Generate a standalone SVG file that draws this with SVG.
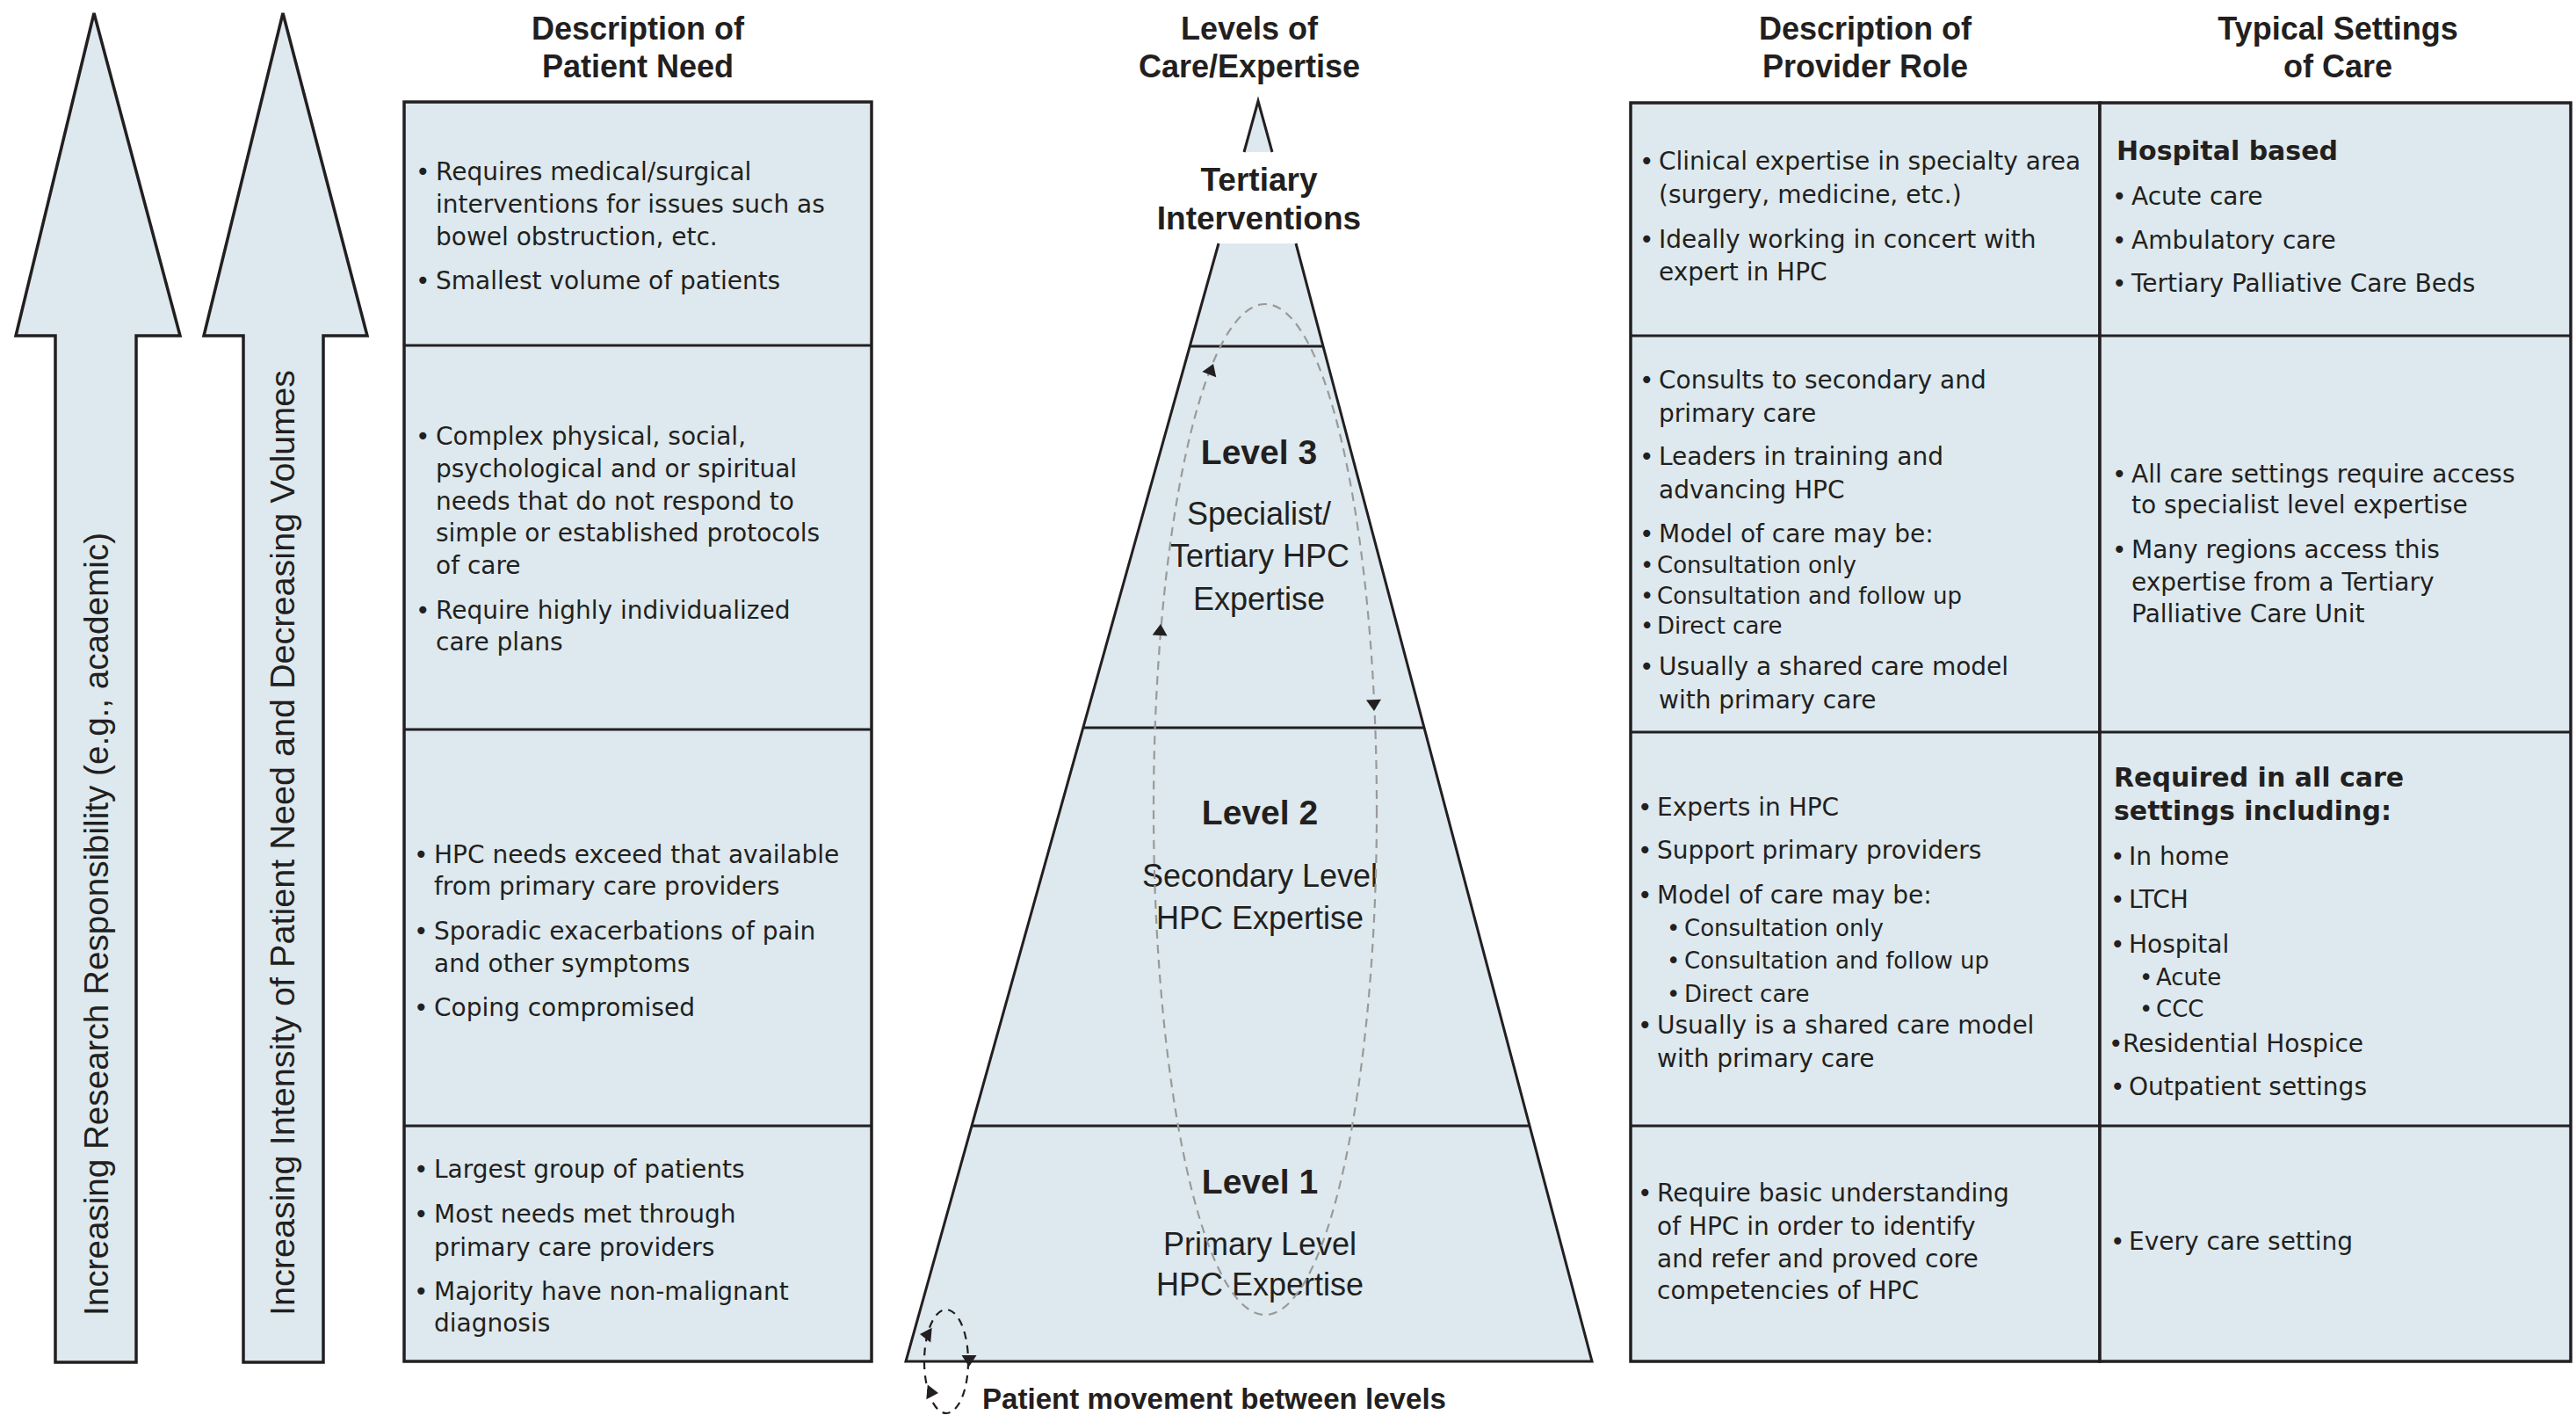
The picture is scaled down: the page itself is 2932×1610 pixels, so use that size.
<svg xmlns="http://www.w3.org/2000/svg" width="2932" height="1610" viewBox="0 0 2932 1610">
<defs>
<style>
.fill{fill:#dde9ee}
.ln{stroke:#231f20;stroke-width:3;fill:none}
.box{fill:#dde9ee;stroke:#231f20;stroke-width:3.5}
.hd{font-family:"Liberation Sans",Arial,sans-serif;font-weight:bold;font-size:36px;fill:#231f20;text-anchor:middle}
.py{font-family:"Liberation Sans",Arial,sans-serif;font-size:36px;fill:#231f20;text-anchor:middle}
.pyb{font-family:"Liberation Sans",Arial,sans-serif;font-weight:bold;font-size:39px;fill:#231f20;text-anchor:middle}
.vt{font-family:"Liberation Sans",Arial,sans-serif;font-size:39px;fill:#231f20}
.t{font-family:"DejaVu Sans",Verdana,sans-serif;font-size:28px;fill:#231f20}
.ts{font-family:"DejaVu Sans",Verdana,sans-serif;font-size:26px;fill:#231f20}
.tb{font-family:"DejaVu Sans",Verdana,sans-serif;font-weight:bold;font-size:30px;fill:#231f20}
.dash{fill:none;stroke:#9a9a9a;stroke-width:2.2;stroke-dasharray:10 7}
.dashk{fill:none;stroke:#231f20;stroke-width:2.2;stroke-dasharray:9 7}
.ah{fill:#231f20}
</style>
<path id="ah" d="M0,0 L-13,-8.5 L-13,8.5 Z"/>
</defs>
<rect width="2932" height="1610" fill="#ffffff"/>

<!-- Left arrows -->
<g id="arrow-research">
<polygon class="box" points="63,1550 63,382 18,382 107,15 205,382 155,382 155,1550"/>
<text class="vt" transform="translate(123,1497) rotate(-90)" textLength="891" lengthAdjust="spacingAndGlyphs">Increasing Research Responsibility (e.g., academic)</text>
</g>
<g id="arrow-intensity">
<polygon class="box" points="277,1550 277,382 232,382 322,15 418,382 368,382 368,1550"/>
<text class="vt" transform="translate(335,1497) rotate(-90)" textLength="1076" lengthAdjust="spacingAndGlyphs">Increasing Intensity of Patient Need and Decreasing Volumes</text>
</g>

<!-- Headers -->
<g id="headers">
<text class="hd" x="726" y="45">Description of</text>
<text class="hd" x="726" y="88">Patient Need</text>
<text class="hd" x="1422" y="45">Levels of</text>
<text class="hd" x="1422" y="88">Care/Expertise</text>
<text class="hd" x="2123" y="45">Description of</text>
<text class="hd" x="2123" y="88">Provider Role</text>
<text class="hd" x="2661" y="45">Typical Settings</text>
<text class="hd" x="2661" y="88">of Care</text>
</g>

<!-- Patient need table -->
<g id="patient-need">
<rect class="box" x="460" y="116" width="532" height="1433"/>
<line class="ln" x1="460" y1="393" x2="992" y2="393"/>
<line class="ln" x1="460" y1="830" x2="992" y2="830"/>
<line class="ln" x1="460" y1="1281" x2="992" y2="1281"/>
<text class="t"><tspan x="473" y="205">•</tspan><tspan x="496" y="205">Requires medical/surgical</tspan></text>
<text class="t" x="496" y="242">interventions for issues such as</text>
<text class="t" x="496" y="279">bowel obstruction, etc.</text>
<text class="t"><tspan x="473" y="329">•</tspan><tspan x="496" y="329">Smallest volume of patients</tspan></text>

<text class="t"><tspan x="473" y="506">•</tspan><tspan x="496" y="506">Complex physical, social,</tspan></text>
<text class="t" x="496" y="543">psychological and or spiritual</text>
<text class="t" x="496" y="580">needs that do not respond to</text>
<text class="t" x="496" y="616">simple or established protocols</text>
<text class="t" x="496" y="653">of care</text>
<text class="t"><tspan x="473" y="704">•</tspan><tspan x="496" y="704">Require highly individualized</tspan></text>
<text class="t" x="496" y="740">care plans</text>

<text class="t"><tspan x="471" y="982">•</tspan><tspan x="494" y="982">HPC needs exceed that available</tspan></text>
<text class="t" x="494" y="1018">from primary care providers</text>
<text class="t"><tspan x="471" y="1069">•</tspan><tspan x="494" y="1069">Sporadic exacerbations of pain</tspan></text>
<text class="t" x="494" y="1106">and other symptoms</text>
<text class="t"><tspan x="471" y="1156">•</tspan><tspan x="494" y="1156">Coping compromised</tspan></text>

<text class="t"><tspan x="471" y="1340">•</tspan><tspan x="494" y="1340">Largest group of patients</tspan></text>
<text class="t"><tspan x="471" y="1391">•</tspan><tspan x="494" y="1391">Most needs met through</tspan></text>
<text class="t" x="494" y="1429">primary care providers</text>
<text class="t"><tspan x="471" y="1479">•</tspan><tspan x="494" y="1479">Majority have non-malignant</tspan></text>
<text class="t" x="494" y="1515">diagnosis</text>
</g>

<!-- Pyramid -->
<g id="pyramid">
<polygon class="fill" points="1432,115 1416,173 1448,173"/>
<polyline class="ln" points="1416,173 1432,115 1448,173"/>
<polygon class="fill" points="1387,277 1475,277 1812,1549 1031,1549"/>
<polyline class="ln" points="1387,277 1031,1549 1812,1549 1475,277"/>
<line class="ln" x1="1354" y1="394" x2="1506" y2="394"/>
<line class="ln" x1="1233" y1="828" x2="1621" y2="828"/>
<line class="ln" x1="1106" y1="1281" x2="1741" y2="1281"/>
<text class="hd" x="1433" y="217" style="font-size:37px">Tertiary</text>
<text class="hd" x="1433" y="261" style="font-size:37px">Interventions</text>
<text class="pyb" x="1433" y="528">Level 3</text>
<text class="py" x="1433" y="597">Specialist/</text>
<text class="py" x="1434" y="645">Tertiary HPC</text>
<text class="py" x="1433" y="694">Expertise</text>
<text class="pyb" x="1434" y="938">Level 2</text>
<text class="py" x="1434" y="1009">Secondary Level</text>
<text class="py" x="1434" y="1057">HPC Expertise</text>
<text class="pyb" x="1434" y="1358">Level 1</text>
<text class="py" x="1434" y="1428">Primary Level</text>
<text class="py" x="1434" y="1474">HPC Expertise</text>
</g>

<!-- Provider role table -->
<g id="provider-role">
<rect class="box" x="1856" y="117" width="534" height="1432"/>
<line class="ln" x1="1856" y1="382" x2="2390" y2="382"/>
<line class="ln" x1="1856" y1="833" x2="2390" y2="833"/>
<line class="ln" x1="1856" y1="1281" x2="2390" y2="1281"/>
<text class="t"><tspan x="1866" y="193">•</tspan><tspan x="1888" y="193">Clinical expertise in specialty area</tspan></text>
<text class="t" x="1888" y="231">(surgery, medicine, etc.)</text>
<text class="t"><tspan x="1866" y="282">•</tspan><tspan x="1888" y="282">Ideally working in concert with</tspan></text>
<text class="t" x="1888" y="319">expert in HPC</text>

<text class="t"><tspan x="1866" y="442">•</tspan><tspan x="1888" y="442">Consults to secondary and</tspan></text>
<text class="t" x="1888" y="480">primary care</text>
<text class="t"><tspan x="1866" y="529">•</tspan><tspan x="1888" y="529">Leaders in training and</tspan></text>
<text class="t" x="1888" y="567">advancing HPC</text>
<text class="t"><tspan x="1866" y="617">•</tspan><tspan x="1888" y="617">Model of care may be:</tspan></text>
<text class="ts"><tspan x="1867" y="652">•</tspan><tspan x="1886" y="652">Consultation only</tspan></text>
<text class="ts"><tspan x="1867" y="687">•</tspan><tspan x="1886" y="687">Consultation and follow up</tspan></text>
<text class="ts"><tspan x="1867" y="721">•</tspan><tspan x="1886" y="721">Direct care</tspan></text>
<text class="t"><tspan x="1866" y="768">•</tspan><tspan x="1888" y="768">Usually a shared care model</tspan></text>
<text class="t" x="1888" y="806">with primary care</text>

<text class="t"><tspan x="1864" y="928">•</tspan><tspan x="1886" y="928">Experts in HPC</tspan></text>
<text class="t"><tspan x="1864" y="977">•</tspan><tspan x="1886" y="977">Support primary providers</tspan></text>
<text class="t"><tspan x="1864" y="1028">•</tspan><tspan x="1886" y="1028">Model of care may be:</tspan></text>
<text class="ts"><tspan x="1897" y="1065">•</tspan><tspan x="1917" y="1065">Consultation only</tspan></text>
<text class="ts"><tspan x="1897" y="1102">•</tspan><tspan x="1917" y="1102">Consultation and follow up</tspan></text>
<text class="ts"><tspan x="1897" y="1140">•</tspan><tspan x="1917" y="1140">Direct care</tspan></text>
<text class="t"><tspan x="1864" y="1176">•</tspan><tspan x="1886" y="1176">Usually is a shared care model</tspan></text>
<text class="t" x="1886" y="1214">with primary care</text>

<text class="t"><tspan x="1864" y="1367">•</tspan><tspan x="1886" y="1367">Require basic understanding</tspan></text>
<text class="t" x="1886" y="1405">of HPC in order to identify</text>
<text class="t" x="1886" y="1442">and refer and proved core</text>
<text class="t" x="1886" y="1478">competencies of HPC</text>
</g>

<!-- Settings table -->
<g id="settings">
<rect class="box" x="2390" y="117" width="536" height="1432"/>
<line class="ln" x1="2390" y1="382" x2="2926" y2="382"/>
<line class="ln" x1="2390" y1="833" x2="2926" y2="833"/>
<line class="ln" x1="2390" y1="1281" x2="2926" y2="1281"/>
<text class="tb" x="2409" y="182">Hospital based</text>
<text class="t"><tspan x="2404" y="233">•</tspan><tspan x="2426" y="233">Acute care</tspan></text>
<text class="t"><tspan x="2404" y="283">•</tspan><tspan x="2426" y="283">Ambulatory care</tspan></text>
<text class="t"><tspan x="2404" y="332">•</tspan><tspan x="2426" y="332">Tertiary Palliative Care Beds</tspan></text>

<text class="t"><tspan x="2404" y="549">•</tspan><tspan x="2426" y="549">All care settings require access</tspan></text>
<text class="t" x="2426" y="584">to specialist level expertise</text>
<text class="t"><tspan x="2404" y="635">•</tspan><tspan x="2426" y="635">Many regions access this</tspan></text>
<text class="t" x="2426" y="672">expertise from a Tertiary</text>
<text class="t" x="2426" y="708">Palliative Care Unit</text>

<text class="tb" x="2406" y="895">Required in all care</text>
<text class="tb" x="2406" y="933">settings including:</text>
<text class="t"><tspan x="2402" y="984">•</tspan><tspan x="2423" y="984">In home</tspan></text>
<text class="t"><tspan x="2402" y="1033">•</tspan><tspan x="2423" y="1033">LTCH</tspan></text>
<text class="t"><tspan x="2402" y="1084">•</tspan><tspan x="2423" y="1084">Hospital</tspan></text>
<text class="ts"><tspan x="2435" y="1121">•</tspan><tspan x="2454" y="1121">Acute</tspan></text>
<text class="ts"><tspan x="2435" y="1157">•</tspan><tspan x="2454" y="1157">CCC</tspan></text>
<text class="t"><tspan x="2400" y="1197">•</tspan><tspan x="2416" y="1197">Residential Hospice</tspan></text>
<text class="t"><tspan x="2402" y="1246">•</tspan><tspan x="2423" y="1246">Outpatient settings</tspan></text>

<text class="t"><tspan x="2402" y="1422">•</tspan><tspan x="2423" y="1422">Every care setting</tspan></text>
</g>

<!-- Patient movement connectors -->
<g id="connectors">
<ellipse class="dash" cx="1440" cy="921" rx="127" ry="575"/>
<use href="#ah" class="ah" transform="translate(1381,414) rotate(-69)"/>
<use href="#ah" class="ah" transform="translate(1321,710) rotate(-86)"/>
<use href="#ah" class="ah" transform="translate(1564,809) rotate(87.5)"/>
<ellipse class="dashk" cx="1077" cy="1549" rx="25" ry="59"/>
<use href="#ah" class="ah" transform="translate(1047,1518) rotate(185)"/>
<use href="#ah" class="ah" transform="translate(1103,1555) rotate(90)"/>
<use href="#ah" class="ah" transform="translate(1068,1585) rotate(5)"/>
</g>
<g id="legend">
<text class="hd" x="1118" y="1603" style="font-size:32.5px;text-anchor:start" textLength="528" lengthAdjust="spacingAndGlyphs">Patient movement between levels</text>
</g>
</svg>
